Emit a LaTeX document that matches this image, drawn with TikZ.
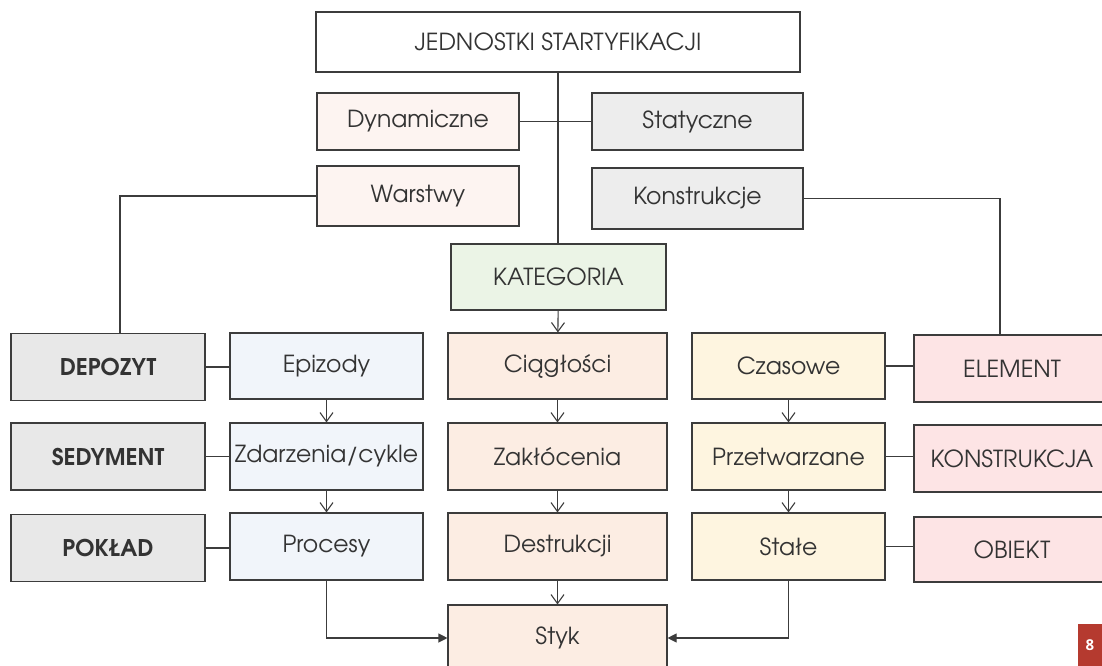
\documentclass[tikz,border=0pt]{standalone}
\usepackage{fontspec}
\setmainfont{texgyreadventor}[Extension=.otf, UprightFont=*-regular, BoldFont=*-bold]
\newfontfamily\badgefont{Open Sans}
\usetikzlibrary{arrows.meta}
\definecolor{lineC}{HTML}{3C3C3C}
\definecolor{txtC}{HTML}{333333}
\definecolor{pinkL}{HTML}{FDF4F1}
\definecolor{grayL}{HTML}{EDEDED}
\definecolor{greenL}{HTML}{EBF4E6}
\definecolor{grayM}{HTML}{E8E8E8}
\definecolor{blueL}{HTML}{F1F5FA}
\definecolor{peachL}{HTML}{FCEDE3}
\definecolor{yellowL}{HTML}{FEF5E0}
\definecolor{roseL}{HTML}{FDE4E5}
\definecolor{badgeC}{HTML}{B53A2F}
\tikzset{
  box/.style={draw=lineC, line width=1.1pt, inner sep=0pt, text=txtC,
    font=\fontsize{23.5}{26}\selectfont, anchor=center},
  boldbox/.style={box, fill=grayM, minimum width=194pt, minimum height=67pt,
    font=\fontsize{23}{26}\selectfont\bfseries},
  conn/.style={draw=lineC, line width=1.1pt},
  varrow/.style={conn, -{Straight Barb[length=9pt,width=13pt,line width=1.1pt]}},
  farrow/.style={conn, -{Triangle[length=9pt,width=9pt]}},
}
\begin{document}
\begin{tikzpicture}[x=1pt,y=-1pt]
\useasboundingbox (0,0) rectangle (1102,666);
% top
\node[box, fill=white, minimum width=484pt, minimum height=60pt] (top) at (558,42) {JEDNOSTKI STARTYFIKACJI};
\node[box, fill=pinkL, minimum width=202pt, minimum height=57pt] (dyn) at (418,121.5) {Dynamiczne};
\node[box, fill=grayL, minimum width=211pt, minimum height=57pt] (stat) at (697.5,121.5) {Statyczne};
\node[box, fill=pinkL, minimum width=202pt, minimum height=60pt] (warst) at (418,196) {Warstwy};
\node[box, fill=grayL, minimum width=211pt, minimum height=61pt] (konst) at (697.5,198.5) {Konstrukcje};
\node[box, fill=greenL, minimum width=215pt, minimum height=66pt] (kat) at (558.5,277) {KATEGORIA};
% left column
\node[boldbox] (dep) at (108,367) {DEPOZYT};
\node[boldbox] (sed) at (108,456.5) {SEDYMENT};
\node[boldbox] (pok) at (108,548) {POKŁAD};
% blue column
\node[box, fill=blueL, minimum width=193pt, minimum height=66pt] (epi) at (326.5,366) {Epizody};
\node[box, fill=blueL, minimum width=193pt, minimum height=67pt] (zda) at (326.5,456.5) {Zdarzenia/cykle};
\node[box, fill=blueL, minimum width=193pt, minimum height=67pt] (pro) at (326.5,546.5) {Procesy};
% peach column
\node[box, fill=peachL, minimum width=219pt, minimum height=66pt] (cia) at (557.5,366) {Ciągłości};
\node[box, fill=peachL, minimum width=219pt, minimum height=67pt] (zak) at (557.5,456.5) {Zakłócenia};
\node[box, fill=peachL, minimum width=219pt, minimum height=67pt] (des) at (557.5,546.5) {Destrukcji};
\node[box, fill=peachL, minimum width=219pt, minimum height=66pt] (sty) at (557.5,638) {Styk};
% yellow column
\node[box, fill=yellowL, minimum width=193pt, minimum height=66pt] (cza) at (788.5,366) {Czasowe};
\node[box, fill=yellowL, minimum width=193pt, minimum height=67pt] (prz) at (788.5,456.5) {Przetwarzane};
\node[box, fill=yellowL, minimum width=193pt, minimum height=67pt] (sta) at (788.5,546.5) {Stałe};
% pink column
\node[box, fill=roseL, minimum width=196pt, minimum height=67pt] (ele) at (1012,368.5) {ELEMENT};
\node[box, fill=roseL, minimum width=196pt, minimum height=67pt] (kon) at (1012,458.5) {KONSTRUKCJA};
\node[box, fill=roseL, minimum width=196pt, minimum height=65pt] (obi) at (1012,549.5) {OBIEKT};
% badge
\node[fill=badgeC, text=white, inner sep=0pt, minimum width=24pt, minimum height=42pt, font=\badgefont\fontsize{15}{18}\selectfont\bfseries] (badge) at (1090,645) {8};
% connectors
\draw[conn] (top.south) -- (top.south |- kat.north);
\draw[conn] (dyn.east) -- (stat.west);
\coordinate (dj) at (120,333);
\draw[conn] (warst.west) -| (dj);
\coordinate (ej) at (1000,335);
\draw[conn] (konst.east) -| (ej);
\draw[varrow] (kat) -- (cia);
\draw[varrow] (cia) -- (zak);
\draw[varrow] (zak) -- (des);
\draw[varrow] (des) -- (sty);
\draw[varrow] (epi) -- (zda);
\draw[varrow] (zda) -- (pro);
\draw[varrow] (cza) -- (prz);
\draw[varrow] (prz) -- (sta);
\draw[conn] (dep.east) -- (dep.east -| epi.west);
\draw[conn] (sed.east) -- (sed.east -| zda.west);
\draw[conn] (pok.east) -- (pok.east -| pro.west);
\draw[conn] (cza.east) -- (cza.east -| ele.west);
\draw[conn] (prz.east) -- (prz.east -| kon.west);
\draw[conn] (sta.east) -- (sta.east -| obi.west);
\draw[farrow] (pro.south) |- (sty.west);
\draw[farrow] (sta.south) |- (sty.east);
\end{tikzpicture}
\end{document}
